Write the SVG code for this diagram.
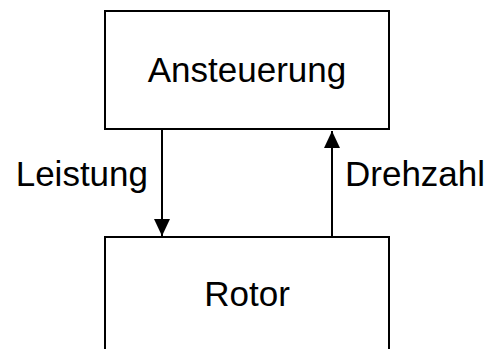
<svg xmlns="http://www.w3.org/2000/svg" width="489" height="349" viewBox="0 0 489 349">
  <defs>
    <style>
      .box { fill: #ffffff; stroke: #000000; stroke-width: 2; }
      .lbl { font-family: "Liberation Sans", Arial, sans-serif; font-size: 35px; fill: #000000; }
      .edge { fill: none; stroke: #000000; stroke-width: 2; }
    </style>
    <marker id="arrow" viewBox="0 0 17 16" refX="17" refY="8" markerWidth="17" markerHeight="16" markerUnits="userSpaceOnUse" orient="auto">
      <path d="M0,0 L17,8 L0,16 Z" fill="#000000"/>
    </marker>
  </defs>
  <rect width="489" height="349" fill="#ffffff"/>

  <g id="ansteuerung">
    <rect class="box" x="105" y="11" width="284" height="118"/>
    <text class="lbl" x="247" y="82" text-anchor="middle">Ansteuerung</text>
  </g>

  <g id="rotor">
    <rect class="box" x="105" y="237" width="284" height="120"/>
    <text class="lbl" x="247" y="306" text-anchor="middle">Rotor</text>
  </g>

  <g id="connectors">
    <path class="edge" d="M162,129 L162,236" marker-end="url(#arrow)"/>
    <text class="lbl" x="148" y="186" text-anchor="end">Leistung</text>
    <path class="edge" d="M332,237 L332,131" marker-end="url(#arrow)"/>
    <text class="lbl" x="345" y="186">Drehzahl</text>
  </g>
</svg>
